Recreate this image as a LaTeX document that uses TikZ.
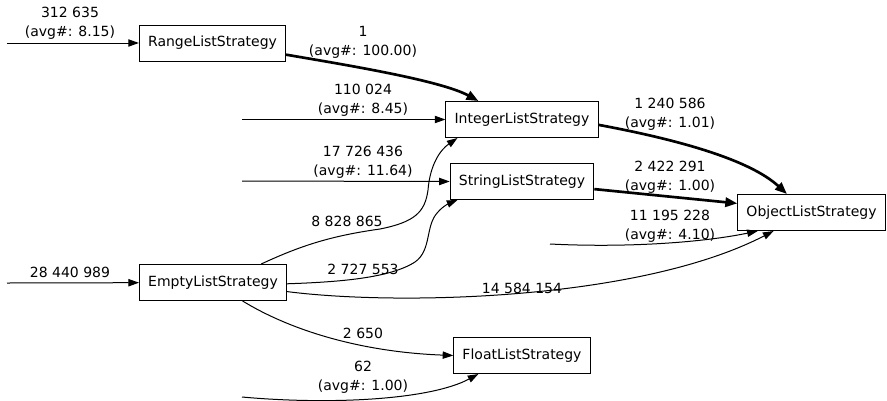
\documentclass[tikz,border=0pt]{standalone}
\usepackage{fontspec}
\setmainfont{DejaVu Sans}
\usetikzlibrary{arrows.meta}

\begin{document}
\begin{tikzpicture}[x=0.75pt,y=-0.75pt,
		font=\fontsize{10.5}{13.9}\selectfont,
		strategy/.style={draw,line width=0.75pt,minimum height=27pt,inner xsep=6.5pt},
		count/.style={align=center,inner sep=0pt},
		flow/.style={line width=0.75pt,-{Triangle[length=8pt,width=5.5pt]}},
		hotflow/.style={line width=2pt,-{Triangle[length=9pt,width=7pt]}}]
				\useasboundingbox (0,0) rectangle (887,400);
				
				% Strategy boxes
				\node[strategy] (range)   at (212.5,43)  {RangeListStrategy};
				\node[strategy] (integer) at (522,119.5) {IntegerListStrategy};
				\node[strategy] (string)  at (522,181.5) {StringListStrategy};
				\node[strategy] (object)  at (811.5,212.5) {ObjectListStrategy};
				\node[strategy] (empty)   at (213,282.5) {EmptyListStrategy};
				\node[strategy] (float)   at (522,355.5) {FloatListStrategy};
				
				% Loose ends of the incoming edges
				\coordinate (inrange) at (7,43);
				\coordinate (inempty) at (7,283);
				\coordinate (ininteger) at (242,119.5);
				\coordinate (instring) at (242,181);
				\coordinate (inobject) at (550,244);
				\coordinate (infloat) at (242,397);
				
				% Incoming edges
				\draw[flow] (inrange) -- (range);
				\draw[flow] (inempty) -- (empty);
				\draw[flow] (ininteger) -- (integer);
				\draw[flow] (instring) -- (string.west);
				\draw[flow] (inobject) .. controls (630,248) and (705,242) .. (object.199);
				\draw[flow] (infloat) .. controls (330,405) and (430,400) .. (float.203);
				
				% Transitions between strategies
				\draw[hotflow] (range.-9) .. controls (340,64) and (440,80) .. (integer.157);
				\draw[hotflow] (integer.-4) .. controls (680,140) and (750,160) .. (object.143);
				\draw[hotflow] (string.-6) -- (object.173);
				\draw[flow] (empty.21) .. controls (300,246) and (330,236) .. (380,229)
					.. controls (415,222) and (425,212) .. (428,190)
					.. controls (430,165) and (440,150) .. (integer.196);
				\draw[flow] (empty.-1) .. controls (340,282) and (390,278) .. (415,262)
					.. controls (432,250) and (425,225) .. (438,212)
					.. controls (443,206) and (450,203) .. (string.196);
				\draw[flow] (empty.-7) .. controls (400,306) and (640,300) .. (object.206);
				\draw[flow] (empty.-32) .. controls (290,330) and (360,352) .. (float.west);
				
				% Edge counts
				\node[count] (cinrange) at (70,23) {312 635\\(avg\#: 8.15)};
				\node[count] (crange) at (363,42.5) {1\\(avg\#: 100.00)};
				\node[count] (cininteger) at (363,100) {110 024\\(avg\#: 8.45)};
				\node[count] (cinstring) at (363,162) {17 726 436\\(avg\#: 11.64)};
				\node[count] (cinteger) at (670,114) {1 240 586\\(avg\#: 1.01)};
				\node[count] (cstring) at (670,177.5) {2 422 291\\(avg\#: 1.00)};
				\node[count] (cinobject) at (670,226.5) {11 195 228\\(avg\#: 4.10)};
				\node[count] (cinempty) at (70,272) {28 440 989};
				\node[count] (cemptyint) at (347,221) {8 828 865};
				\node[count] (cemptystr) at (363,269) {2 727 553};
				\node[count] (cemptyobj) at (522,288) {14 584 154};
				\node[count] (cemptyflt) at (363,333) {2 650};
				\node[count] (cinfloat) at (363,377.5) {62\\(avg\#: 1.00)};
				
				\end{tikzpicture}
\end{document}
